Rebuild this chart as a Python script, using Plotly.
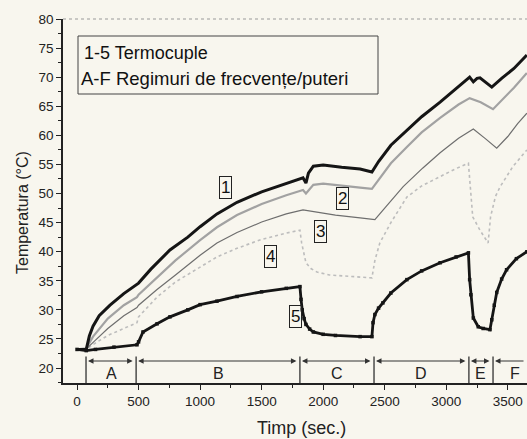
import plotly.graph_objects as go

# ---------------- data ----------------
t1 = [0, 75, 100, 130, 180, 268, 380, 487, 500, 600, 755, 900, 1000, 1137, 1300, 1500, 1700, 1836, 1860, 1880, 1920,
      2000, 2150, 2300, 2396, 2450, 2550, 2680, 2800, 2950, 3080, 3190, 3220, 3250, 3274, 3370, 3450, 3550, 3655]
T1 = [23.2, 23.2, 25.5, 27.2, 29.0, 30.8, 32.8, 34.3, 34.6, 37.0, 40.3, 42.5, 44.3, 46.5, 48.5, 50.3, 51.8, 52.7, 51.8,
      53.5, 54.7, 54.9, 54.5, 54.2, 53.7, 55.5, 58.3, 60.9, 63.2, 65.7, 68.0, 70.0, 69.2, 69.8, 69.9, 68.3, 69.8, 71.5, 73.8]

t2 = [0, 75, 130, 250, 380, 487, 500, 650, 800, 1000, 1137, 1300, 1500, 1700, 1836, 1860, 1920, 2000, 2150, 2300,
      2396, 2450, 2550, 2680, 2800, 2950, 3100, 3190, 3280, 3380, 3450, 3550, 3655]
T2 = [23.2, 23.4, 25.4, 28.5, 30.8, 32.2, 32.6, 35.5, 38.5, 42.0, 44.2, 46.3, 48.2, 49.7, 50.6, 50.0, 51.5, 51.7, 51.3,
      51.0, 50.8, 52.3, 55.2, 58.0, 60.5, 63.0, 65.3, 66.4, 65.7, 64.5, 66.0, 68.2, 70.7]

t3 = [0, 75, 150, 250, 380, 487, 500, 650, 800, 1000, 1137, 1300, 1500, 1700, 1836, 1950, 2100, 2300, 2420, 2500,
      2650, 2810, 2950, 3100, 3220, 3320, 3410, 3500, 3580, 3655]
T3 = [23.2, 23.3, 24.8, 26.8, 29.0, 30.4, 30.8, 33.5, 36.0, 39.4, 41.5, 43.3, 45.1, 46.5, 47.2, 46.8, 46.3, 45.8, 45.5,
      47.5, 51.2, 54.4, 57.0, 59.5, 61.1, 59.4, 57.8, 59.8, 62.0, 63.8]

t4 = [0, 75, 150, 250, 380, 487, 500, 560, 650, 800, 1000, 1137, 1300, 1500, 1700, 1811, 1825, 1836, 1860, 1900, 1950,
      2050, 2300, 2396, 2420, 2460, 2550, 2680, 2800, 2950, 3080, 3180, 3195, 3215, 3274, 3340, 3360, 3400, 3436, 3540, 3655]
T4 = [23.2, 23.2, 24.3, 25.6, 26.8, 27.8, 28.8, 30.2, 32.2, 34.8, 37.4, 39.1, 40.6, 42.1, 43.2, 43.7, 41.5, 40.3, 38.1,
      37.1, 36.5, 36.0, 35.7, 35.5, 38.5, 41.5, 45.0, 49.4, 51.3, 52.9, 54.3, 55.2, 50.6, 46.0, 43.7, 41.5, 46.0, 49.5,
      51.1, 54.6, 57.5]

t5 = [0, 75, 150, 300, 487, 500, 536, 650, 755, 900, 1000, 1137, 1300, 1500, 1700, 1811, 1820, 1830, 1845, 1860, 1890,
      1920, 2000, 2100, 2300, 2396, 2405, 2420, 2450, 2485, 2550, 2680, 2800, 2950, 3080, 3180, 3190, 3200, 3220, 3260,
      3300, 3355, 3370, 3390, 3410, 3450, 3490, 3570, 3655]
T5 = [23.2, 23.0, 23.2, 23.6, 24.0, 24.5, 26.2, 27.6, 28.8, 30.0, 30.9, 31.5, 32.3, 33.1, 33.7, 34.0, 31.8, 30.0, 28.5,
      27.5, 26.7, 26.2, 25.8, 25.6, 25.4, 25.4, 27.8, 29.2, 30.3, 31.2, 32.9, 35.2, 36.7, 38.1, 39.1, 39.8, 35.2, 32.6,
      28.6, 27.1, 26.8, 26.6, 28.3, 30.8, 33.0, 35.3, 36.9, 38.8, 40.0]

curve_ids = ["1", "2", "3", "4", "5"]
label_t = [1210, 2160, 1982, 1568, 1771]
label_T = [51.1, 49.2, 43.4, 39.1, 28.8]

regime_bounds = [73, 480, 1811, 2413, 3184, 3380]
regime_labels = ["A", "B", "C", "D", "E", "F"]

x_tick_vals = [0, 500, 1000, 1500, 2000, 2500, 3000, 3500]
y_tick_vals = [20, 25, 30, 35, 40, 45, 50, 55, 60, 65, 70, 75, 80]

# ---------------- figure ----------------
FONT = "Liberation Sans, Arial, sans-serif"
BG = "#f8f6ee"
X_RANGE = [-114, 3656]
Y_RANGE = [17.43, 80]

fig = go.Figure()
fig.add_trace(go.Scatter(x=t4, y=T4, mode="lines", line=dict(color="#bdbdbd", width=1.6, dash="dot"), showlegend=False))
fig.add_trace(go.Scatter(x=t3, y=T3, mode="lines", line=dict(color="#6e6e6e", width=1.2), showlegend=False))
fig.add_trace(go.Scatter(x=t2, y=T2, mode="lines", line=dict(color="#a2a2a2", width=2.2), showlegend=False))
fig.add_trace(go.Scatter(x=t1, y=T1, mode="lines", line=dict(color="#151515", width=3), showlegend=False))
fig.add_trace(go.Scatter(x=t5, y=T5, mode="lines+markers", line=dict(color="#151515", width=2.8),
                         marker=dict(color="#151515", size=3.5, symbol="square"), showlegend=False))

annotations = []
# boxed curve labels
for name, lx, ly in zip(curve_ids, label_t, label_T):
    annotations.append(dict(x=lx, y=ly, xref="x", yref="y", text=name, showarrow=False,
                            font=dict(family=FONT, size=17, color="#111"),
                            bordercolor="#222", borderwidth=1, borderpad=1, bgcolor="rgba(0,0,0,0)"))

shapes = []
# regime boundary lines
for b in regime_bounds:
    shapes.append(dict(type="line", xref="x", yref="y", x0=b, x1=b, y0=Y_RANGE[0], y1=22.0,
                       line=dict(color="#222", width=1.2)))

# regime arrows and labels
ends = regime_bounds[1:] + [X_RANGE[1]]
for lab, a, b in zip(regime_labels, regime_bounds, ends):
    last = b == X_RANGE[1]
    annotations.append(dict(x=a, y=21.2, ax=b, ay=21.2, xref="x", yref="y", axref="x", ayref="y",
                            text="", showarrow=True, arrowhead=2, arrowsize=1, arrowwidth=1.1,
                            arrowcolor="#333", arrowside="end" if last else "end+start",
                            standoff=2, startstandoff=2))
    cx = (a + b) / 2 if not last else a + 180
    annotations.append(dict(x=cx, y=19.0, xref="x", yref="y", text=lab, showarrow=False,
                            font=dict(family=FONT, size=16, color="#222")))

# info box
shapes.append(dict(type="rect", xref="paper", yref="paper",
                   x0=(78 - 63) / 464, x1=(378 - 63) / 464, y0=(383 - 94) / 364, y1=(383 - 36) / 364,
                   line=dict(color="#444", width=1), fillcolor="rgba(0,0,0,0)"))
annotations.append(dict(x=(82 - 63) / 464, y=(383 - 53) / 364, xref="paper", yref="paper",
                        text="1-5 Termocuple", showarrow=False, xanchor="left", yanchor="middle",
                        font=dict(family=FONT, size=18, color="#111")))
annotations.append(dict(x=(79 - 63) / 464, y=(383 - 78) / 364, xref="paper", yref="paper",
                        text="A-F Regimuri de frecvențe/puteri", showarrow=False, xanchor="left", yanchor="middle",
                        font=dict(family=FONT, size=18.5, color="#111")))

# top border (dotted)
shapes.append(dict(type="line", xref="paper", yref="paper", x0=0, x1=1, y0=1, y1=1,
                   line=dict(color="#9a9a9a", width=1, dash="dot")))

# axis titles
annotations.append(dict(x=(22 - 63) / 464, y=(383 - 213) / 364, xref="paper", yref="paper",
                        text="Temperatura (°C)", textangle=-90, showarrow=False,
                        xanchor="center", yanchor="middle",
                        font=dict(family=FONT, size=16, color="#222")))
annotations.append(dict(x=(301 - 63) / 464, y=(383 - 428) / 364, xref="paper", yref="paper",
                        text="Timp (sec.)", showarrow=False, xanchor="center", yanchor="middle",
                        font=dict(family=FONT, size=18, color="#222")))

fig.update_layout(
    width=527, height=439,
    margin=dict(l=63, r=0, t=19, b=56),
    paper_bgcolor=BG, plot_bgcolor=BG,
    font=dict(family=FONT, size=13, color="#222"),
    annotations=annotations, shapes=shapes,
    showlegend=False,
)
fig.update_xaxes(range=X_RANGE, tickvals=x_tick_vals, ticks="outside", ticklen=5, tickwidth=1.2,
                 tickcolor="#222", showline=True, linecolor="#222", linewidth=1.5, showgrid=False,
                 zeroline=False, tickfont=dict(size=13.5),
                 minor=dict(dtick=250, tick0=0, ticks="outside", ticklen=3, tickcolor="#222", showgrid=False))
fig.update_yaxes(range=Y_RANGE, tickvals=y_tick_vals, ticks="outside", ticklen=5, tickwidth=1.2,
                 tickcolor="#222", showline=True, linecolor="#222", linewidth=1.5, showgrid=False,
                 zeroline=False, tickfont=dict(size=13.5),
                 minor=dict(dtick=2.5, tick0=0, ticks="outside", ticklen=3, tickcolor="#222", showgrid=False))

fig.write_html("out.html", config={"displayModeBar": False},
               post_script="document.body.style.margin='0';document.body.style.background='" + BG + "';")
